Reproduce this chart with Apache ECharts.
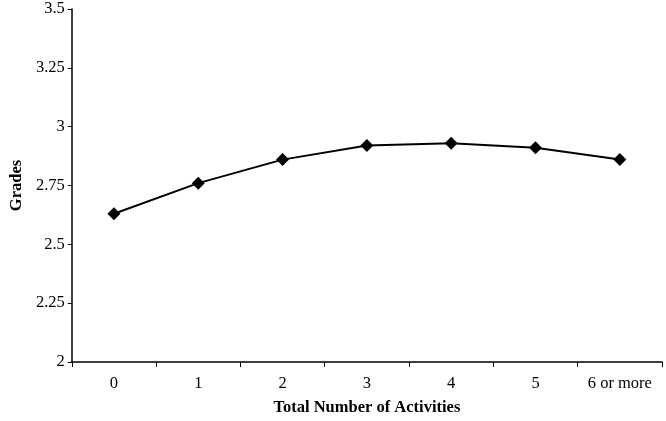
<!DOCTYPE html>
<html>
<head>
<meta charset="utf-8">
<script src="https://cdn.jsdelivr.net/npm/echarts@6/dist/echarts.min.js"></script>
<style>html,body{margin:0;padding:0;background:#fff}#c{width:666px;height:421px}</style>
</head>
<body>
<div id="c"></div>
<script>
const categories = ['0', '1', '2', '3', '4', '5', '6 or more'];
const grades = [2.63, 2.76, 2.86, 2.92, 2.93, 2.91, 2.86];
const yTicks = [2, 2.25, 2.5, 2.75, 3, 3.25, 3.5];

const chart = echarts.init(document.getElementById('c'), null, {renderer: 'canvas'});
const font = 'Liberation Serif';
const fs = 16.5;
chart.setOption({
  animation: false,
  backgroundColor: '#fff',
  grid: {left: 64, right: 4, top: 9, bottom: 57},
  xAxis: {
    type: 'category',
    data: categories,
    boundaryGap: true,
    name: 'Total Number of Activities',
    nameLocation: 'middle',
    nameGap: 37,
    nameTextStyle: {fontFamily: font, fontWeight: 'bold', fontSize: fs, color: '#000'},
    axisLine: {lineStyle: {color: '#000', width: 1.5}},
    axisTick: {show: true, length: 5, lineStyle: {color: '#000'}},
    axisLabel: {fontFamily: font, fontSize: fs, color: '#000', margin: 13},
    splitLine: {show: false}
  },
  yAxis: {
    type: 'value',
    min: 2,
    max: 3.5,
    interval: 0.25,
    name: 'Grades',
    nameLocation: 'middle',
    nameGap: 46,
    nameTextStyle: {fontFamily: font, fontWeight: 'bold', fontSize: fs, color: '#000'},
    axisLine: {show: true, lineStyle: {color: '#000', width: 1.5}},
    axisTick: {show: true, length: 4, lineStyle: {color: '#000'}},
    axisLabel: {fontFamily: font, fontSize: fs, color: '#000', margin: 7,
      formatter: v => (yTicks.includes(v) ? String(v) : '')},
    splitLine: {show: false}
  },
  series: [{
    type: 'line',
    data: grades,
    symbol: 'diamond',
    symbolSize: 13,
    lineStyle: {color: '#000', width: 2},
    itemStyle: {color: '#000'}
  }]
});
</script>
</body>
</html>
